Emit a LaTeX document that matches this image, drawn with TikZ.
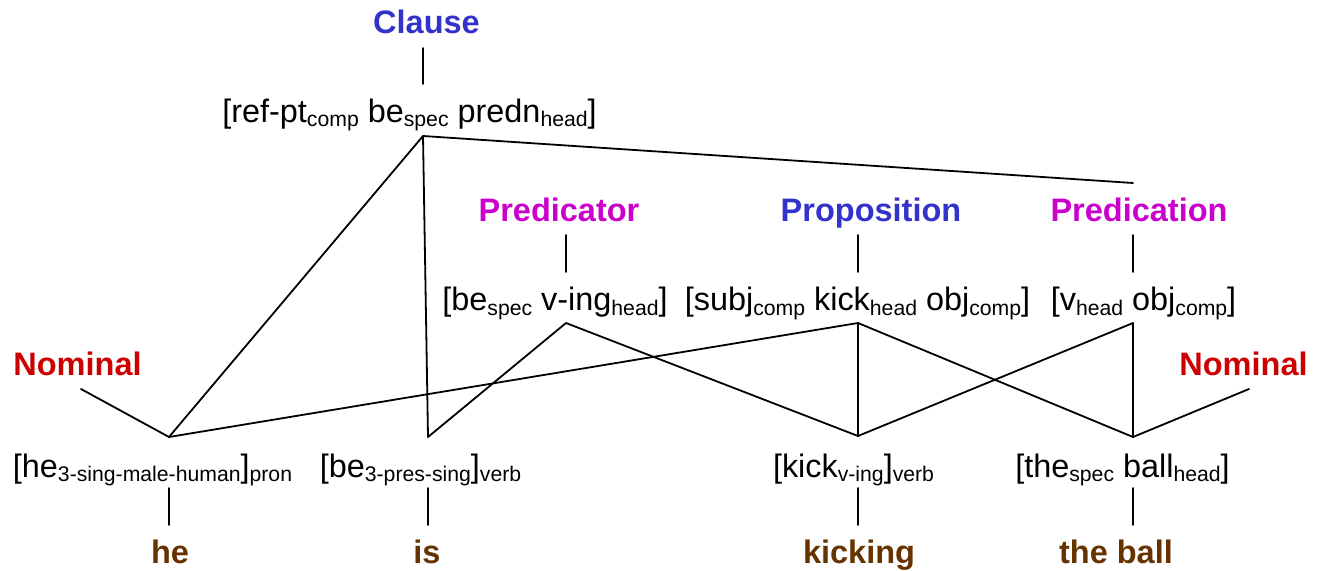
\documentclass[tikz,border=0pt]{standalone}
\usepackage{fontspec}
\setmainfont{Liberation Sans}
\definecolor{catblue}{RGB}{51,51,204}
\definecolor{catmagenta}{RGB}{204,0,204}
\definecolor{catred}{RGB}{204,0,0}
\definecolor{wordbrown}{RGB}{102,51,0}
% lowered subscript label inside a bracketed construction
\newcommand\lo[1]{\raisebox{-2pt}{\fontsize{10.6}{12}\selectfont #1}}
\begin{document}
\begin{tikzpicture}[x=0.5pt,y=-0.5pt,
  txt/.style={anchor=base,inner sep=0pt,font=\fontsize{16.2}{19}\selectfont},
  cat/.style={anchor=base,inner sep=0pt,font=\fontsize{16.25}{19}\selectfont\bfseries},
  word/.style={cat,text=wordbrown},
  link/.style={line width=0.9pt,line cap=round,line join=round}]
\useasboundingbox (0,0) rectangle (1320,571);

% category labels
\node[cat,text=catblue]    (clause) at (426.5,34)  {Clause};
\node[cat,text=catmagenta] (predr)  at (559,222)   {Predicator};
\node[cat,text=catblue]    (prop)   at (871,222)   {Proposition};
\node[cat,text=catmagenta] (predn)  at (1139,222)  {Predication};
\node[cat,text=catred]     (nomL)   at (77.5,375)  {Nominal};
\node[cat,text=catred]     (nomR)   at (1243.5,375){Nominal};

% constructions
\node[txt] (clt)  at (409.5,123) {[ref-pt\lo{comp} be\lo{spec} predn\lo{head}]};
\node[txt] (prt)  at (555,311)   {[be\lo{spec} v-ing\lo{head}]};
\node[txt] (ppt)  at (857.5,311) {[subj\lo{comp} kick\lo{head} obj\lo{comp}]};
\node[txt] (pct)  at (1143.5,311){[v\lo{head} obj\lo{comp}]};
\node[txt] (het)  at (152.5,477) {[he\lo{3-sing-male-human}]\lo{pron}};
\node[txt] (bet)  at (420.5,477) {[be\lo{3-pres-sing}]\lo{verb}};
\node[txt] (kit)  at (853.5,477) {[kick\lo{v-ing}]\lo{verb}};
\node[txt] (bat)  at (1122.5,477){[the\lo{spec} ball\lo{head}]};

% words
\node[word] (whe)   at (170,563)  {he};
\node[word] (wis)   at (427,563)  {is};
\node[word] (wkick) at (859,563)  {kicking};
\node[word] (wball) at (1116,563) {the ball};

% attachment points
\coordinate (clA) at (423,48);   \coordinate (clB) at (423,84);
\coordinate (clJ) at (423,136);
\coordinate (prA) at (566,235);  \coordinate (prB) at (566,272);
\coordinate (prJ) at (566,323);
\coordinate (ppA) at (858,235);  \coordinate (ppB) at (858,272);
\coordinate (ppJ) at (858,323);
\coordinate (pcT) at (1133,183);
\coordinate (pcA) at (1133,235); \coordinate (pcB) at (1133,272);
\coordinate (pcJ) at (1133,323);
\coordinate (nlJ) at (81,389);   \coordinate (nrJ) at (1249,389);
\coordinate (heJ) at (169,437);  \coordinate (isJ) at (428,437);
\coordinate (kiJ) at (858,436);  \coordinate (baJ) at (1133,437);
\coordinate (heA) at (169,488);  \coordinate (heB) at (169,525);
\coordinate (isA) at (428,488);  \coordinate (isB) at (428,525);
\coordinate (kiA) at (858,488);  \coordinate (kiB) at (858,525);
\coordinate (baA) at (1133,488); \coordinate (baB) at (1133,525);

% label ticks
\draw[link] (clA) -- (clB);
\draw[link] (prA) -- (prB);
\draw[link] (ppA) -- (ppB);
\draw[link] (pcA) -- (pcB);
\draw[link] (heA) -- (heB);
\draw[link] (isA) -- (isB);
\draw[link] (kiA) -- (kiB);
\draw[link] (baA) -- (baB);

% unification links
\draw[link] (heJ) -- (clJ) -- (isJ);
\draw[link] (clJ) -- (pcT);
\draw[link] (isJ) -- (prJ) -- (kiJ);
\draw[link] (heJ) -- (ppJ) -- (baJ);
\draw[link] (ppJ) -- (kiJ);
\draw[link] (kiJ) -- (pcJ) -- (baJ);
\draw[link] (nlJ) -- (heJ);
\draw[link] (nrJ) -- (baJ);
\end{tikzpicture}
\end{document}
